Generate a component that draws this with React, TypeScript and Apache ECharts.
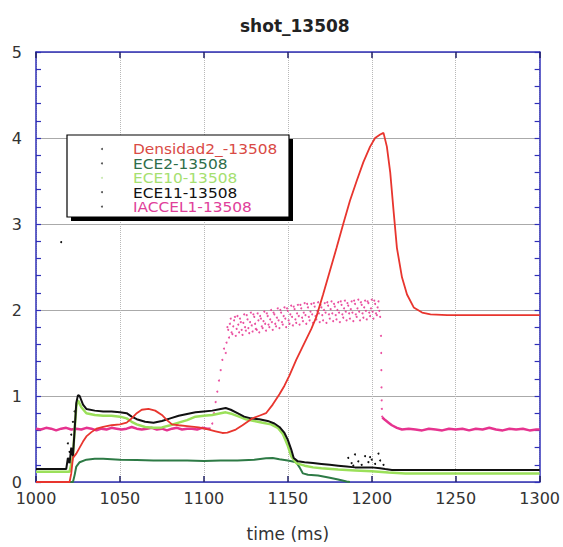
import React, { useEffect, useRef } from "react";
import * as echarts from "echarts";

const chartTitle = "shot_13508";
const xName = "time (ms)";
const xTickValues = [1000, 1050, 1100, 1150, 1200, 1250, 1300];
const yTickValues = [0, 1, 2, 3, 4, 5];

const seriesNames = ["Densidad2_-13508", "ECE2-13508", "ECE10-13508", "ECE11-13508", "IACCEL1-13508"];
const seriesColors = ["#e8352e", "#2d7a45", "#9be05a", "#111111", "#e6338f"];
const legendTextColors = ["#d94a45", "#2e6e4a", "#a6e070", "#111111", "#e0409a"];

const densidad2 = [
  [1000, 0], [1020, 0], [1021, 0.1], [1022, 0.28], [1024, 0.33], [1026, 0.4], [1028, 0.47], [1030, 0.53],
  [1033, 0.58], [1036, 0.62], [1040, 0.64], [1045, 0.66], [1050, 0.67], [1054, 0.69], [1057, 0.74], [1060, 0.8],
  [1063, 0.84], [1067, 0.85], [1071, 0.83], [1075, 0.78], [1078, 0.72], [1081, 0.67], [1085, 0.66], [1090, 0.65],
  [1097, 0.635], [1103, 0.61], [1107, 0.59], [1111, 0.57], [1114, 0.575], [1119, 0.61], [1123, 0.66], [1126, 0.7],
  [1129, 0.74], [1133, 0.77], [1137, 0.8], [1141, 0.9], [1145, 1.02], [1148, 1.12], [1151, 1.24], [1155, 1.42],
  [1160, 1.62], [1164, 1.78], [1167, 1.92], [1171, 2.18], [1175, 2.45], [1179, 2.72], [1183, 3.0], [1187, 3.27],
  [1191, 3.5], [1195, 3.72], [1199, 3.9], [1202, 4.0], [1205, 4.04], [1207, 4.06], [1209, 3.9], [1211, 3.6],
  [1213, 3.15], [1215, 2.72], [1218, 2.38], [1221, 2.18], [1225, 2.03], [1230, 1.97], [1235, 1.95], [1245, 1.94],
  [1260, 1.94], [1280, 1.94], [1300, 1.94],
];

const ece2 = [
  [1000, 0], [1022, 0], [1023, 0.08], [1024, 0.18], [1026, 0.23], [1030, 0.26], [1035, 0.27], [1040, 0.27],
  [1050, 0.26], [1060, 0.255], [1070, 0.25], [1080, 0.25], [1090, 0.25], [1100, 0.245], [1110, 0.25], [1120, 0.25],
  [1130, 0.26], [1137, 0.275], [1141, 0.28], [1145, 0.265], [1150, 0.25], [1155, 0.23], [1157, 0.17], [1159, 0.1],
  [1162, 0.085], [1168, 0.075], [1175, 0.05], [1180, 0.03], [1185, 0.005], [1187, 0],
];

const ece10 = [
  [1000, 0.12], [1020, 0.12], [1022, 0.3], [1023, 0.6], [1024, 0.88], [1025, 0.95], [1027, 0.87], [1030, 0.8],
  [1035, 0.78], [1040, 0.77], [1045, 0.77], [1050, 0.76], [1054, 0.74], [1057, 0.7], [1060, 0.67], [1065, 0.64],
  [1070, 0.63], [1075, 0.635], [1080, 0.66], [1085, 0.69], [1090, 0.72], [1095, 0.76], [1100, 0.77], [1105, 0.78],
  [1110, 0.8], [1113, 0.81], [1117, 0.79], [1121, 0.76], [1125, 0.73], [1130, 0.71], [1135, 0.69], [1140, 0.67],
  [1144, 0.63], [1147, 0.56], [1150, 0.42], [1152, 0.3], [1155, 0.22], [1160, 0.19], [1165, 0.17], [1170, 0.16],
  [1180, 0.145], [1190, 0.135], [1200, 0.125], [1210, 0.11], [1220, 0.1], [1300, 0.1],
];

const ece11 = [
  [1000, 0.15], [1018, 0.15], [1019, 0.28], [1020, 0.22], [1021, 0.4], [1022, 0.3], [1023, 0.6], [1024, 0.92],
  [1025, 1.01], [1026, 1.0], [1028, 0.9], [1030, 0.85], [1035, 0.83], [1040, 0.82], [1045, 0.82], [1050, 0.81],
  [1054, 0.8], [1057, 0.76], [1060, 0.73], [1065, 0.7], [1070, 0.69], [1075, 0.71], [1080, 0.74], [1085, 0.77],
  [1090, 0.79], [1095, 0.81], [1100, 0.82], [1105, 0.83], [1110, 0.85], [1113, 0.86], [1116, 0.84], [1120, 0.8],
  [1124, 0.76], [1128, 0.74], [1133, 0.73], [1138, 0.71], [1142, 0.68], [1145, 0.64], [1148, 0.57], [1150, 0.49],
  [1152, 0.38], [1153.5, 0.28], [1156, 0.24], [1160, 0.23], [1165, 0.22], [1170, 0.21], [1175, 0.2], [1180, 0.19],
  [1185, 0.18], [1190, 0.17], [1195, 0.17], [1200, 0.17], [1205, 0.16], [1208, 0.15], [1212, 0.14], [1300, 0.14],
];

const ece11Dots = [
  [1015, 2.79], [1019, 0.45], [1020, 0.35], [1021, 0.55], [1022, 0.7], [1023, 0.82],
  [1186, 0.28], [1188, 0.22], [1189, 0.19], [1190, 0.32], [1192, 0.24], [1194, 0.2], [1196, 0.3],
  [1198, 0.23], [1199, 0.29], [1200, 0.26], [1202, 0.21], [1204, 0.33], [1205, 0.25], [1207, 0.2],
];

const iaccelBase = [
  [1000, 0.62], [1003, 0.61], [1006, 0.63], [1009, 0.62], [1012, 0.6], [1015, 0.62], [1018, 0.63], [1021, 0.61],
  [1024, 0.62], [1027, 0.61], [1030, 0.63], [1033, 0.62], [1036, 0.6], [1039, 0.62], [1042, 0.61], [1045, 0.63],
  [1048, 0.62], [1051, 0.61], [1054, 0.62], [1057, 0.64], [1060, 0.62], [1063, 0.61], [1066, 0.62], [1069, 0.63],
  [1072, 0.61], [1075, 0.62], [1078, 0.6], [1081, 0.62], [1084, 0.63], [1087, 0.61], [1090, 0.62], [1093, 0.62],
  [1096, 0.61], [1099, 0.63], [1102, 0.62], [1104, 0.62],
];

// rising edge, noisy plateau and falling edge of IACCEL1 (drawn as dots)
const iaccelDotsA = [
  [1105, 0.68], [1106, 0.8], [1107, 0.93], [1108, 1.05], [1109, 1.18], [1110, 1.3], [1111, 1.42], [1112, 1.55],
  [1113, 1.5], [1114, 1.8], [1115, 1.68], [1116, 1.9], [1117, 1.72], [1118, 1.88], [1119, 1.7], [1120, 1.93],
  [1121, 1.74], [1122, 1.86], [1123, 1.71], [1124, 1.95], [1125, 1.76], [1126, 1.89], [1127, 1.73], [1128, 1.97],
  [1129, 1.75], [1130, 1.92], [1131, 1.78], [1132, 1.96], [1133, 1.74], [1134, 1.9], [1135, 1.79], [1136, 1.98],
  [1137, 1.76], [1138, 1.93], [1139, 1.8], [1140, 2.0], [1141, 1.77], [1142, 1.95], [1143, 1.81], [1144, 2.02],
  [1145, 1.79], [1146, 1.97], [1147, 1.83], [1148, 2.03], [1149, 1.8], [1150, 1.99], [1151, 1.84], [1152, 2.05],
  [1153, 1.82], [1154, 2.01], [1155, 1.85], [1156, 2.06], [1157, 1.83], [1158, 2.02], [1159, 1.87], [1160, 2.08],
  [1161, 1.84], [1162, 2.03], [1163, 1.88], [1164, 2.07], [1165, 1.85], [1166, 2.04], [1167, 1.89], [1168, 2.09],
  [1169, 1.86], [1170, 2.03], [1171, 1.88], [1172, 2.08], [1173, 1.85], [1174, 2.05], [1175, 1.9], [1176, 2.1],
  [1177, 1.87], [1178, 2.04], [1179, 1.89], [1180, 2.09], [1181, 1.86], [1182, 2.06], [1183, 1.91], [1184, 2.11],
  [1185, 1.88], [1186, 2.05], [1187, 1.9], [1188, 2.1], [1189, 1.87], [1190, 2.07], [1191, 1.92], [1192, 2.12],
  [1193, 1.88], [1194, 2.06], [1195, 1.91], [1196, 2.11], [1197, 1.89], [1198, 2.08], [1199, 1.93], [1200, 2.12],
  [1201, 1.9], [1202, 2.07], [1203, 1.94], [1204, 2.1], [1205, 1.92], [1205.5, 1.7], [1205.6, 1.5], [1205.7, 1.3],
  [1205.8, 1.1], [1205.9, 0.95], [1206, 0.85], [1206.2, 0.76],
];

const iaccelDotsB = [
  [1113.5, 1.62], [1114.5, 1.77], [1115.5, 1.84], [1116.5, 1.74], [1117.5, 1.81], [1118.5, 1.92], [1119.5, 1.78],
  [1120.5, 1.83], [1121.5, 1.9], [1122.5, 1.77], [1123.5, 1.85], [1124.5, 1.8], [1125.5, 1.94], [1126.5, 1.79],
  [1127.5, 1.86], [1128.5, 1.82], [1129.5, 1.95], [1130.5, 1.84], [1131.5, 1.77], [1132.5, 1.88], [1133.5, 1.93],
  [1134.5, 1.81], [1135.5, 1.87], [1136.5, 1.84], [1137.5, 1.96], [1138.5, 1.83], [1139.5, 1.89], [1140.5, 1.86],
  [1141.5, 1.97], [1142.5, 1.84], [1143.5, 1.91], [1144.5, 1.88], [1145.5, 2.0], [1146.5, 1.86], [1147.5, 1.93],
  [1148.5, 1.9], [1149.5, 2.02], [1150.5, 1.88], [1151.5, 1.95], [1152.5, 1.92], [1153.5, 2.04], [1154.5, 1.89],
  [1155.5, 1.96], [1156.5, 1.93], [1157.5, 2.06], [1158.5, 1.91], [1159.5, 1.97], [1160.5, 1.94], [1161.5, 2.07],
  [1162.5, 1.92], [1163.5, 1.98], [1164.5, 1.95], [1165.5, 2.08], [1166.5, 1.93], [1167.5, 1.99], [1168.5, 1.96],
  [1169.5, 2.06], [1170.5, 1.94], [1171.5, 2.0], [1172.5, 1.97], [1173.5, 2.09], [1174.5, 1.95], [1175.5, 2.01],
  [1176.5, 1.96], [1177.5, 2.07], [1178.5, 1.94], [1179.5, 2.0], [1180.5, 1.97], [1181.5, 2.1], [1182.5, 1.95],
  [1183.5, 2.02], [1184.5, 1.98], [1185.5, 2.08], [1186.5, 1.96], [1187.5, 2.01], [1188.5, 1.97], [1189.5, 2.11],
  [1190.5, 1.95], [1191.5, 2.02], [1192.5, 1.98], [1193.5, 2.09], [1194.5, 1.96], [1195.5, 2.03], [1196.5, 1.99],
  [1197.5, 2.1], [1198.5, 1.97], [1199.5, 2.02], [1200.5, 1.98], [1201.5, 2.11], [1202.5, 1.96], [1203.5, 2.03],
  [1204.5, 1.99],
];

const iaccelTail = [
  [1206.3, 0.75], [1208, 0.72], [1210, 0.69], [1212, 0.66], [1215, 0.63], [1218, 0.61], [1222, 0.62], [1226, 0.61],
  [1230, 0.6], [1234, 0.62], [1238, 0.61], [1242, 0.6], [1246, 0.62], [1250, 0.61], [1254, 0.62], [1258, 0.6],
  [1262, 0.62], [1266, 0.61], [1270, 0.63], [1274, 0.61], [1278, 0.6], [1282, 0.62], [1286, 0.61], [1290, 0.62],
  [1294, 0.6], [1298, 0.61], [1300, 0.61],
];

const AXIS_BLUE = "#3030b8";
const FONT = "DejaVu Sans";

export default function App() {
  const ref = useRef<HTMLDivElement>(null);

  useEffect(() => {
    if (!ref.current) return;
    const chart = echarts.init(ref.current, undefined, { renderer: "svg" });
    const xMin = xTickValues[0];
    const xMax = xTickValues[xTickValues.length - 1];
    const xInt = xTickValues[1] - xTickValues[0];
    const yMin = yTickValues[0];
    const yMax = yTickValues[yTickValues.length - 1];
    const yInt = yTickValues[1] - yTickValues[0];

    const lineSeries = (name: string, data: number[][], color: string, width: number, opacity = 1) => ({
      name,
      type: "line",
      data,
      showSymbol: false,
      symbol: "none",
      silent: true,
      lineStyle: { color, width, opacity },
      itemStyle: { color },
    });

    const dotSeries = (name: string, data: number[][], color: string, size: number, opacity = 1) => ({
      name,
      type: "scatter",
      data,
      symbolSize: size,
      silent: true,
      itemStyle: { color, opacity },
    });

    const legendText = seriesNames.map((n, i) => `{s${i}|${n}}`).join("\n");
    const rich: Record<string, any> = {};
    seriesNames.forEach((_, i) => {
      rich["s" + i] = { fill: legendTextColors[i], fontSize: 14, fontFamily: FONT, lineHeight: 14.4 };
    });
    const legendRows = [149, 163.4, 177.8, 192.2, 206.6];

    chart.setOption({
      animation: false,
      backgroundColor: "#ffffff",
      title: {
        text: chartTitle,
        left: 235,
        top: 12,
        textStyle: { fontFamily: FONT, fontSize: 17, fontWeight: "bold", color: "#222222" },
      },
      grid: { left: 36, right: 21, top: 52, bottom: 62 },
      xAxis: [
        {
          type: "value",
          min: xMin,
          max: xMax,
          interval: xInt,
          name: xName,
          nameLocation: "middle",
          nameGap: 43,
          nameTextStyle: { fontFamily: FONT, fontSize: 17, color: "#333333" },
          axisLine: { show: true, onZero: false, lineStyle: { color: AXIS_BLUE, width: 1.5 } },
          axisTick: { show: true, inside: true, length: 6, lineStyle: { color: "#222266", width: 1.5 } },
          axisLabel: {
            fontFamily: FONT,
            fontSize: 16,
            color: "#333333",
            margin: 8,
            formatter: (v: number) => String(v),
          },
          splitLine: { show: true, lineStyle: { color: "#b8b8b8", type: "dotted", width: 1 } },
        },
        {
          type: "value",
          position: "top",
          min: xMin,
          max: xMax,
          interval: xInt,
          axisLine: { show: true, onZero: false, lineStyle: { color: AXIS_BLUE, width: 1.5 } },
          axisTick: { show: true, inside: true, length: 6, lineStyle: { color: "#222266", width: 1.5 } },
          axisLabel: { show: false },
          splitLine: { show: false },
        },
      ],
      yAxis: [
        {
          type: "value",
          min: yMin,
          max: yMax,
          interval: yInt,
          axisLine: { show: true, onZero: false, lineStyle: { color: AXIS_BLUE, width: 1.5 } },
          axisTick: { show: true, inside: true, length: 5, lineStyle: { color: AXIS_BLUE, width: 1.2 } },
          minorTick: { show: true, splitNumber: 5, length: 5, lineStyle: { color: AXIS_BLUE, width: 1.2 } },
          axisLabel: {
            fontFamily: FONT,
            fontSize: 16,
            color: "#333333",
            margin: 14,
            formatter: (v: number) => String(v),
          },
          splitLine: { show: true, lineStyle: { color: "#aaaaaa", width: 1 } },
        },
        {
          type: "value",
          position: "right",
          min: yMin,
          max: yMax,
          interval: yInt,
          axisLine: { show: true, onZero: false, lineStyle: { color: AXIS_BLUE, width: 1.5 } },
          axisTick: { show: true, inside: true, length: 5, lineStyle: { color: AXIS_BLUE, width: 1.2 } },
          minorTick: { show: true, splitNumber: 5, length: 5, lineStyle: { color: AXIS_BLUE, width: 1.2 } },
          axisLabel: { show: false },
          splitLine: { show: false },
        },
      ],
      series: [
        lineSeries(seriesNames[4], iaccelBase, seriesColors[4], 2.5),
        dotSeries(seriesNames[4], iaccelDotsA, seriesColors[4], 2, 0.85),
        dotSeries(seriesNames[4], iaccelDotsB, seriesColors[4], 2, 0.85),
        lineSeries(seriesNames[4], iaccelTail, seriesColors[4], 2.5),
        lineSeries(seriesNames[1], ece2, seriesColors[1], 2),
        lineSeries(seriesNames[2], ece10, seriesColors[2], 2.5),
        lineSeries(seriesNames[3], ece11, seriesColors[3], 2),
        dotSeries(seriesNames[3], ece11Dots, seriesColors[3], 2),
        lineSeries(seriesNames[0], densidad2, seriesColors[0], 1.8),
      ],
      graphic: [
        { type: "rect", shape: { x: 71, y: 139, width: 222, height: 82 }, style: { fill: "#000000" }, z: 100 },
        {
          type: "rect",
          shape: { x: 67, y: 135, width: 222, height: 82 },
          style: { fill: "#ffffff", stroke: "#000000", lineWidth: 1.2 },
          z: 101,
        },
        ...legendRows.map((y, i) => ({
          type: "circle",
          shape: { cx: 102, cy: y, r: 1 },
          style: { fill: i === 2 ? "#c8e8b0" : "#555555" },
          z: 102,
        })),
        {
          type: "text",
          x: 133,
          y: 142,
          scaleX: 1.1,
          z: 102,
          style: { text: legendText, rich, fontFamily: FONT, fontSize: 14 },
        },
      ],
    });

    return () => chart.dispose();
  }, []);

  return (
    <div
      ref={ref}
      style={{ position: "fixed", left: 0, top: 0, width: 563, height: 547, background: "#ffffff" }}
    />
  );
}
